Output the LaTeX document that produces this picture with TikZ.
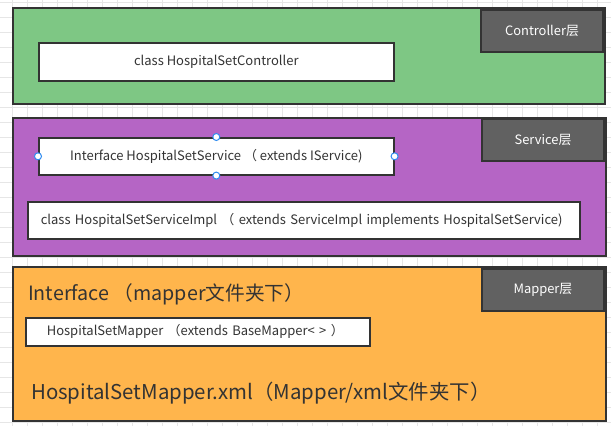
\documentclass[tikz,border=0pt]{standalone}
\usepackage{fontspec}
\setmainfont{Noto Sans CJK SC}
\definecolor{cgreen}{HTML}{7EC784}
\definecolor{cpurple}{HTML}{B565C5}
\definecolor{corange}{HTML}{FFB54C}
\definecolor{cgrey}{HTML}{616161}
\definecolor{cborder}{HTML}{333333}
\definecolor{cgrid}{HTML}{E6E6E6}
\definecolor{chandle}{HTML}{2F8CF0}
\definecolor{ctext}{HTML}{333333}
\tikzset{
  layer/.style={draw=cborder, line width=2pt, anchor=north west, inner sep=0pt},
  tagbox/.style={draw=cborder, line width=2pt, fill=cgrey, text=white, anchor=north east,
    minimum width=122pt, minimum height=42pt, inner sep=0pt, font=\fontsize{12.9}{15}\selectfont},
  classbox/.style={draw=cborder, line width=1.6pt, fill=white, anchor=north west, text=ctext,
    inner sep=0pt, font=\fontsize{13}{15}\selectfont},
  bigtext/.style={anchor=west, text=ctext, inner sep=0pt},
  handle/.style={circle, draw=chandle, fill=white, line width=1pt, minimum size=7pt, inner sep=0pt}
}
\begin{document}
\begin{tikzpicture}[x=1pt,y=-1pt]
\useasboundingbox (0,0) rectangle (611,426);
\fill[white] (0,0) rectangle (611,426);
\foreach \x in {12,27,...,611} \draw[cgrid, line width=0.8pt] (\x,0) -- (\x,426);
\foreach \y in {2.7,17.7,...,426} \draw[cgrid, line width=0.8pt] (0,\y) -- (611,\y);

% Controller layer
\node[layer, fill=cgreen, minimum width=592pt, minimum height=96pt] (ctrl) at (12,7) {};
\node[tagbox] (ctrltag) at (604,9) {Controller层};
\node[classbox, minimum width=355pt, minimum height=38pt] (ctrlcls) at (38,42) {class HospitalSetController};

% Service layer
\node[layer, fill=cpurple, minimum width=593pt, minimum height=138pt] (svc) at (12,117) {};
\node[tagbox] (svctag) at (605,118) {Service层};
\node[classbox, minimum width=355pt, minimum height=37pt] (isvc) at (38,137) {Interface HospitalSetService （ extends IService)};
\node[classbox, minimum width=552pt, minimum height=37pt, text width=526pt, align=left, inner xsep=13pt] (svcimpl) at (27,201) {class HospitalSetServiceImpl （ extends ServiceImpl implements HospitalSetService)};
\node[handle] (h1) at (isvc.north) {};
\node[handle] (h2) at (isvc.south) {};
\node[handle] (h3) at (isvc.west) {};
\node[handle] (h4) at (isvc.east) {};

% Mapper layer
\node[layer, fill=corange, minimum width=593pt, minimum height=154pt] (map) at (12,266) {};
\node[tagbox] (maptag) at (605,268) {Mapper层};
\node[bigtext, font=\fontsize{19.7}{23}\selectfont] (mapif) at (28,294) {Interface （mapper文件夹下）};
\node[classbox, minimum width=344pt, minimum height=28pt, text width=302pt, align=left, inner xsep=21pt] (mapcls) at (25,317) {HospitalSetMapper （extends BaseMapper< > ）};
\node[bigtext, font=\fontsize{20.4}{24}\selectfont] (mapxml) at (31,393) {HospitalSetMapper.xml（Mapper/xml文件夹下）};
\end{tikzpicture}
\end{document}
